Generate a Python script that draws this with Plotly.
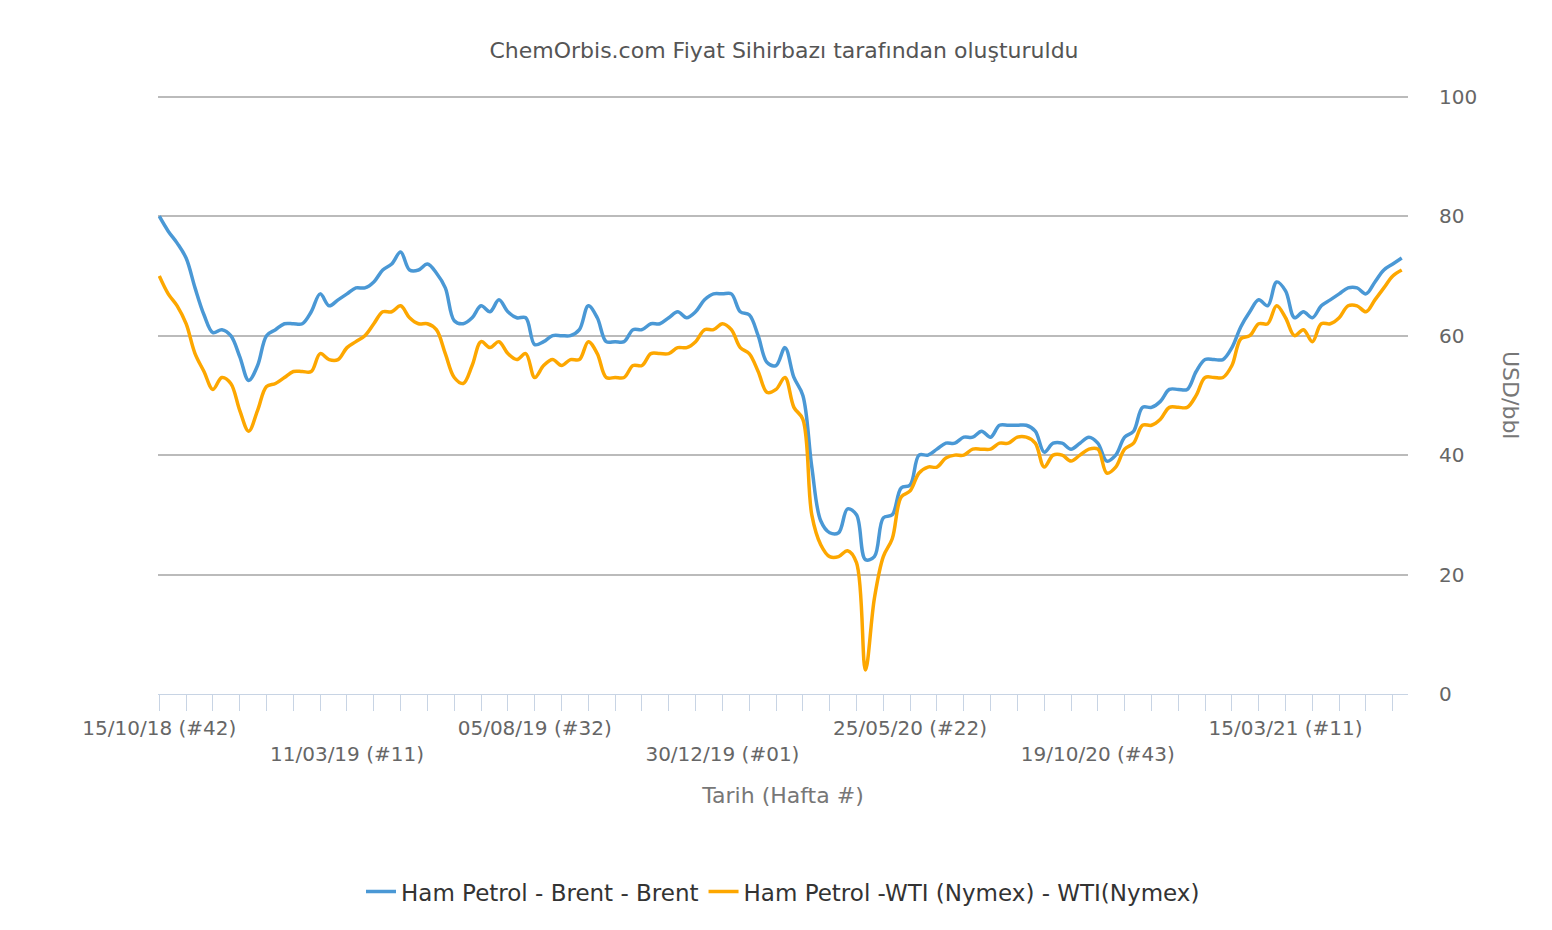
import pandas as pd
import plotly.graph_objects as go

# weekly data starting 15/10/18
weeks = pd.date_range("2018-10-15", periods=140, freq="7D")

brent = [80, 77.5, 75.5, 73, 68, 63.5, 60.5, 61, 60, 56.5,
         52.5, 55, 60, 61, 62, 62, 62, 64, 67, 65,
         66, 67, 68, 68, 69, 71, 72, 74, 71, 71,
         72, 70.5, 68, 62.5, 62, 63, 65, 64, 66, 64,
         63, 63, 58.5, 59, 60, 60, 60, 61, 65, 63,
         59, 59, 59, 61, 61, 62, 62, 63, 64, 63,
         64, 66, 67, 67, 67, 64, 63.5, 60, 55.5, 55,
         58, 53, 50, 38, 29, 27, 27, 31, 30, 22.5,
         23, 29.5, 30, 34.5, 35, 40, 40, 41, 42, 42,
         43, 43, 44, 43, 45, 45, 45, 45, 44, 40.5,
         42, 42, 41, 42, 43, 42, 39, 40, 43, 44,
         48, 48, 49, 51, 51, 51, 54, 56, 56, 56,
         58, 61.5, 64, 66, 65, 69, 67.5, 63, 64, 63,
         65, 66, 67, 68, 68, 67, 69, 71, 72, 73]

wti = [70, 67, 65, 62, 57, 54, 51, 53, 52, 47.5,
       44, 47.5, 51.5, 52, 53, 54, 54, 54, 57, 56,
       56, 58, 59, 60, 62, 64, 64, 65, 63, 62,
       62, 61, 57, 53, 52, 55, 59, 58, 59, 57,
       56, 57, 53, 55, 56, 55, 56, 56, 59, 57,
       53, 53, 53, 55, 55, 57, 57, 57, 58, 58,
       59, 61, 61, 62, 61, 58, 57, 54, 50.5, 51,
       53, 48, 46, 30, 25, 23, 23, 24, 22, 4,
       16, 23, 26, 33, 34, 37, 38, 38, 39.5, 40,
       40, 41, 41, 41, 42, 42, 43, 43, 42, 38,
       40, 40, 39, 40, 41, 41, 37, 38, 41, 42,
       45, 45, 46, 48, 48, 48, 50, 53, 53, 53,
       55, 59.5, 60, 62, 62, 65, 63, 60, 61, 59,
       62, 62, 63, 65, 65, 64, 66, 68, 70, 71]

tick_labels = ["15/10/18 (#42)", "11/03/19 (#11)", "05/08/19 (#32)", "30/12/19 (#01)",
               "25/05/20 (#22)", "19/10/20 (#43)", "15/03/21 (#11)"]
tick_vals = [weeks[i * 21] for i in range(len(tick_labels))]
tick_text = [t if i % 2 == 0 else "<br>" + t for i, t in enumerate(tick_labels)]

fig = go.Figure()
fig.add_trace(go.Scatter(x=weeks, y=brent, name="Ham Petrol - Brent - Brent",
                         mode="lines", line=dict(color="#4a98d5", width=3.5, shape="spline")))
fig.add_trace(go.Scatter(x=weeks, y=wti, name="Ham Petrol -WTI (Nymex) - WTI(Nymex)",
                         mode="lines", line=dict(color="#fda700", width=3.5, shape="spline")))

fig.update_layout(
    width=1552, height=930,
    plot_bgcolor="white", paper_bgcolor="white",
    font=dict(family="DejaVu Sans", size=20, color="#666"),
    margin=dict(l=150, r=152, t=87, b=244, autoexpand=False),
    title=dict(text="ChemOrbis.com Fiyat Sihirbazı tarafından oluşturuldu",
               x=0.5, xanchor="center", y=42 / 930, yref="container", yanchor="middle",
               font=dict(size=22, color="#555")),
    showlegend=True,
    legend=dict(orientation="h", x=0.5, xanchor="center", y=-0.33, yanchor="middle",
                font=dict(size=23, color="#333")),
)
# flip title y (container y is measured from bottom)
fig.layout.title.y = 1 - 42 / 930
fig.update_xaxes(
    automargin=False,
    range=[weeks[0] - pd.Timedelta(days=1), weeks[0] + pd.Timedelta(days=7 * 139.7)],
    tickvals=tick_vals, ticktext=tick_text, showgrid=False,
    showline=True, linecolor="#c8d4e4", ticks="outside", tickcolor="#c8d4e4", ticklen=16,
    minor=dict(ticks="outside", dtick=3 * 7 * 86400000, tick0=weeks[0],
               ticklen=16, tickcolor="#c8d4e4"),
    title=dict(text="Tarih (Hafta #)", font=dict(size=22, color="#777"), standoff=22),
)
fig.update_yaxes(
    automargin=False,
    side="right", range=[0, 100.3], tickvals=[0, 20, 40, 60, 80, 100],
    showgrid=True, gridcolor="#bbbbbb",
    gridwidth=1.5, zeroline=False, ticklabelstandoff=30,
)
fig.add_annotation(text="USD/bbl", textangle=90, xref="paper", yref="paper",
                   x=1.082, xanchor="center", y=0.5, showarrow=False,
                   font=dict(size=22, color="#777"))

fig.write_html("out.html")
